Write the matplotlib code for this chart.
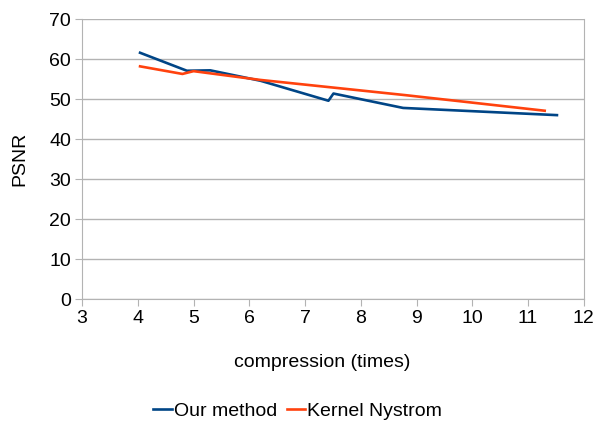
import matplotlib
matplotlib.use("Agg")
import matplotlib.pyplot as plt

plt.rcParams['font.family'] = ['Liberation Sans', 'DejaVu Sans']

# data
ours_x = [4.04, 4.88, 5.3, 6.2, 7.42, 7.51, 8.76, 11.52]
ours_y = [61.6, 57.1, 57.2, 54.6, 49.6, 51.4, 47.8, 46.0]
nys_x = [4.04, 4.8, 5.0, 6.2, 8.8, 11.3]
nys_y = [58.2, 56.3, 57.0, 54.8, 51.0, 47.1]

xticks = list(range(3, 13))
yticks = list(range(0, 71, 10))

grey = '#b3b3b3'
fs = 14

fig = plt.figure(figsize=(5.95, 4.26), dpi=100)
ax = fig.add_axes([0.138, 0.298, 0.843, 0.657])

ax.plot(ours_x, ours_y, color='#004586', lw=1.9, label='Our method')
ax.plot(nys_x, nys_y, color='#ff420e', lw=1.9, label='Kernel Nystrom')

ax.set_xlim(3, 12)
ax.set_ylim(0, 70)
ax.set_xticks(xticks)
ax.set_yticks(yticks)
ax.yaxis.grid(True, color=grey, lw=1)
ax.set_axisbelow(True)
for s in ax.spines.values():
    s.set_color(grey)
ax.spines['top'].set_visible(False)
ax.tick_params(colors=grey, labelcolor='black', labelsize=fs, length=5, pad=3)

ax.set_xlabel('compression (times)', fontsize=fs, va='center')
ax.xaxis.set_label_coords(0.478, -0.225)
ax.set_ylabel('PSNR', fontsize=fs, va='center')
ax.yaxis.set_label_coords(-0.125, 0.5)

fig.legend(loc='center', bbox_to_anchor=(0.5, 0.035), ncol=2, frameon=False,
           fontsize=fs, handlelength=0.95, handletextpad=0.1, columnspacing=0.5)

fig.savefig('out.png', dpi=100)
